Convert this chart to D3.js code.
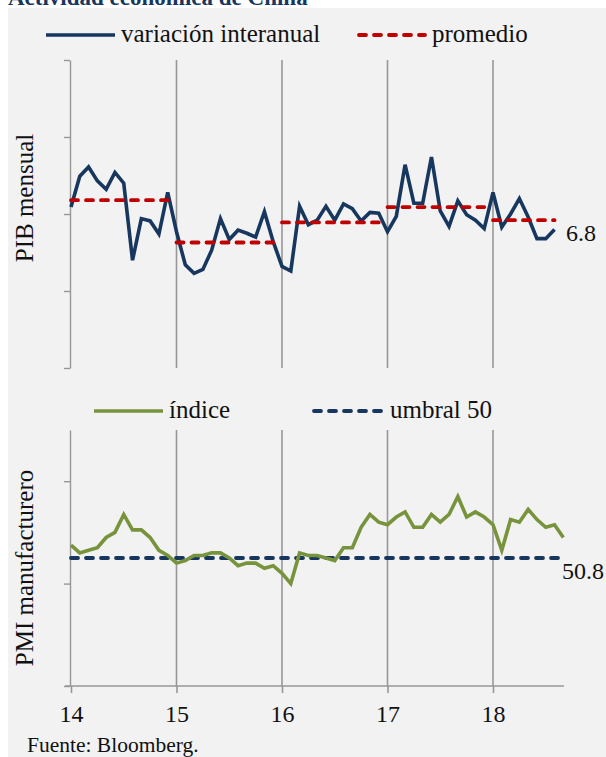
<!DOCTYPE html>
<html>
<head>
<meta charset="utf-8">
<script src="https://cdn.jsdelivr.net/npm/d3@7"></script>
<style>
  html, body { margin: 0; padding: 0; background: #ffffff; }
  svg { display: block; }
</style>
</head>
<body>
<svg id="chart" width="606" height="757"></svg>
<script>
// Monthly series, Jan 2014 onwards
const yearLabels = ["14", "15", "16", "17", "18"];
const yearTicks = [14, 15, 16, 17, 18];

// PIB mensual, variación interanual (%)
const pib = [7.09, 7.49, 7.61, 7.43, 7.32, 7.54, 7.40, 6.40, 6.94, 6.91, 6.74, 7.28,
             6.77, 6.34, 6.23, 6.28, 6.53, 6.94, 6.67, 6.79, 6.75, 6.70, 7.03, 6.64,
             6.32, 6.26, 7.10, 6.86, 6.92, 7.10, 6.92, 7.13, 7.07, 6.91, 7.02, 7.01,
             6.77, 6.97, 7.64, 7.14, 7.14, 7.74, 7.04, 6.84, 7.17, 6.99, 6.92, 6.81,
             7.28, 6.83, 7.00, 7.20, 6.96, 6.68, 6.68, 6.8];
// yearly average of the series (promedio)
const pibYears = [2014, 2015, 2016, 2017, 2018];
const pibAvg = [7.18, 6.63, 6.89, 7.09, 6.92];
const pibLast = "6.8";

// PMI manufacturero
const pmi = [50.5, 50.2, 50.3, 50.4, 50.8, 51.0, 51.7, 51.1, 51.1, 50.8, 50.3, 50.1,
             49.8, 49.9, 50.1, 50.1, 50.2, 50.2, 50.0, 49.7, 49.8, 49.8, 49.6, 49.7,
             49.4, 49.0, 50.2, 50.1, 50.1, 50.0, 49.9, 50.4, 50.4, 51.2, 51.7, 51.4,
             51.3, 51.6, 51.8, 51.2, 51.2, 51.7, 51.4, 51.7, 52.4, 51.6, 51.8, 51.6,
             51.3, 50.3, 51.5, 51.4, 51.9, 51.5, 51.2, 51.3, 50.8];
const pmiThreshold = 50;
const pmiLast = "50.8";

const NAVY = "#17375e", RED = "#c00000", GREEN = "#77933c", GRID = "#979797";
const SERIF = "'Liberation Serif', 'DejaVu Serif', serif";

const svg = d3.select("#chart").attr("font-family", SERIF);

// text helper: every label in the same serif face
function label(parent, x0, y0, size, str) {
  return parent.append("text").attr("x", x0).attr("y", y0)
    .attr("font-size", size).style("font-family", SERIF).style("fill", "#111").text(str);
}

// panel background and title
svg.append("rect").attr("x", 8).attr("y", 8).attr("width", 598).attr("height", 749).attr("fill", "#f2f2f2");
label(svg, 8, 5, 23, "Actividad económica de China")
  .attr("font-weight", "bold").style("fill", NAVY);

const x = d3.scaleLinear().domain([14, 18]).range([71, 493]);
const xm = i => x(14 + i / 12);

const yTop = d3.scaleLinear().domain([5, 9]).range([368, 60]);
const yBot = d3.scaleLinear().domain([45, 55]).range([686, 430]);

function grid(y0, y1) {
  svg.append("g").selectAll("line").data(yearTicks.slice(1)).join("line")
    .attr("x1", d => x(d)).attr("x2", d => x(d))
    .attr("y1", y0).attr("y2", y1)
    .attr("stroke", GRID).attr("stroke-width", 1.6);
}

function styleAxis(g) {
  g.selectAll("path, line").attr("stroke", GRID).attr("stroke-width", 1.4);
  g.selectAll("text").remove();
}

// ---------- top panel: PIB mensual ----------
grid(60, 368);
svg.append("g").attr("transform", "translate(70,0)")
  .call(d3.axisLeft(yTop).tickValues([5, 6, 7, 8, 9]).tickSize(6).tickSizeOuter(0))
  .call(styleAxis);

const linePib = d3.line().x((d, i) => xm(i)).y(d => yTop(d));
svg.append("path").datum(pib).attr("d", linePib)
  .attr("fill", "none").attr("stroke", NAVY).attr("stroke-width", 3.6);

pibAvg.forEach((v, k) => {
  const i0 = k * 12, i1 = Math.min(k * 12 + 11, pib.length - 1);
  svg.append("line")
    .attr("x1", xm(i0)).attr("x2", xm(i1))
    .attr("y1", yTop(v)).attr("y2", yTop(v))
    .attr("stroke", RED).attr("stroke-width", 3.8)
    .attr("stroke-dasharray", "7,8").attr("stroke-linecap", "round");
});

label(svg, 566, 241, 24, pibLast);

label(svg, 0, 0, 25, "PIB mensual")
  .attr("transform", "translate(33,198) rotate(-90)").attr("text-anchor", "middle");

// legend
const lg1 = svg.append("g");
lg1.append("line").attr("x1", 46).attr("x2", 115).attr("y1", 35).attr("y2", 35)
  .attr("stroke", NAVY).attr("stroke-width", 3.6);
label(lg1, 121, 42, 25, "variación interanual");
lg1.append("line").attr("x1", 359).attr("x2", 425).attr("y1", 35).attr("y2", 35)
  .attr("stroke", RED).attr("stroke-width", 3.8)
  .attr("stroke-dasharray", "7,8").attr("stroke-linecap", "round");
label(lg1, 432, 42, 25, "promedio");

// ---------- bottom panel: PMI manufacturero ----------
grid(430, 686);
svg.append("g").attr("transform", "translate(70,0)")
  .call(d3.axisLeft(yBot).tickValues([45, 49, 53]).tickSize(6).tickSizeOuter(0))
  .call(styleAxis);

const xAxis = svg.append("g").attr("transform", "translate(0,686)")
  .call(d3.axisBottom(x).tickValues(yearTicks).tickSize(7).tickSizeOuter(0)
    .tickFormat((d, i) => yearLabels[i]).tickPadding(12));
xAxis.attr("font-family", SERIF);
xAxis.select(".domain").remove();
xAxis.selectAll("line").attr("stroke", GRID).attr("stroke-width", 1.6);
xAxis.selectAll("text").attr("font-size", 24).style("font-family", SERIF).style("fill", "#111");
svg.append("line").attr("x1", 65).attr("x2", 564).attr("y1", 686).attr("y2", 686)
  .attr("stroke", GRID).attr("stroke-width", 1.6);

svg.append("line")
  .attr("x1", xm(0)).attr("x2", xm(pmi.length - 1))
  .attr("y1", yBot(pmiThreshold)).attr("y2", yBot(pmiThreshold))
  .attr("stroke", NAVY).attr("stroke-width", 3.8)
  .attr("stroke-dasharray", "7,8").attr("stroke-linecap", "round");

const linePmi = d3.line().x((d, i) => xm(i)).y(d => yBot(d));
svg.append("path").datum(pmi).attr("d", linePmi)
  .attr("fill", "none").attr("stroke", GREEN).attr("stroke-width", 3.6);

label(svg, 562, 579, 24, pmiLast);

label(svg, 0, 0, 25, "PMI manufacturero")
  .attr("transform", "translate(33,568) rotate(-90)").attr("text-anchor", "middle");

const lg2 = svg.append("g");
lg2.append("line").attr("x1", 94).attr("x2", 163).attr("y1", 411).attr("y2", 411)
  .attr("stroke", GREEN).attr("stroke-width", 3.6);
label(lg2, 169, 418, 25, "índice");
lg2.append("line").attr("x1", 314).attr("x2", 384).attr("y1", 411).attr("y2", 411)
  .attr("stroke", NAVY).attr("stroke-width", 3.8)
  .attr("stroke-dasharray", "7,8").attr("stroke-linecap", "round");
label(lg2, 390, 418, 25, "umbral 50");

label(svg, 27, 752, 21.5, "Fuente: Bloomberg.");
</script>
</body>
</html>
